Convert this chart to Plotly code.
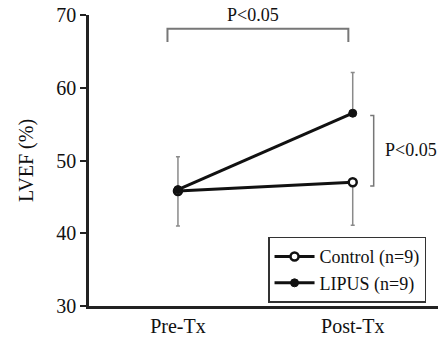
import plotly.graph_objects as go

categories = ["Pre-Tx", "Post-Tx"]
control = [45.8, 47.0]
control_err_minus = [4.8, 5.9]
lipus = [46.0, 56.5]
lipus_err_plus = [4.5, 5.6]
y_ticks = [30, 40, 50, 60, 70]

xpos = list(range(len(categories)))
FONT = "Liberation Serif, Times New Roman, DejaVu Serif, serif"

fig = go.Figure()
fig.add_trace(go.Scatter(
    x=xpos, y=control, mode="lines+markers", name="Control (n=9)",
    line=dict(color="#111", width=3),
    marker=dict(symbol="circle", size=8, color="white", line=dict(color="#111", width=2.5)),
    error_y=dict(type="data", symmetric=False, array=[0, 0], arrayminus=control_err_minus,
                 color="#8a8a8a", thickness=1.5, width=2),
))
fig.add_trace(go.Scatter(
    x=xpos, y=lipus, mode="lines+markers", name="LIPUS (n=9)",
    line=dict(color="#111", width=3),
    marker=dict(symbol="circle", size=8, color="#111", line=dict(color="#111", width=1)),
    error_y=dict(type="data", symmetric=False, array=lipus_err_plus, arrayminus=[0, 0],
                 color="#8a8a8a", thickness=1.5, width=2),
))

# significance brackets
br_top, br_leg = 68.1, 66.3
bx0, bx1 = -0.06, 0.975
gray = "#777"
fig.add_shape(type="path", xref="x", yref="y",
              path=f"M {bx0},{br_leg} L {bx0},{br_top} L {bx1},{br_top} L {bx1},{br_leg}",
              line=dict(color=gray, width=2))
fig.add_annotation(x=(bx0 + bx1) / 2 - 0.03, y=70.0, xref="x", yref="y", text="P<0.05",
                   showarrow=False, font=dict(family=FONT, size=18, color="#111"))
rx, rtick = 1.12, 1.10
fig.add_shape(type="path", xref="x", yref="y",
              path=f"M {rtick},{lipus[1] - 0.3} L {rx},{lipus[1] - 0.3} L {rx},{control[1] - 0.5} L {rtick},{control[1] - 0.5}",
              line=dict(color=gray, width=1.5))
fig.add_annotation(x=1.175, y=51.5, xref="x", yref="y", text="P<0.05", xanchor="left",
                   showarrow=False, font=dict(family=FONT, size=18, color="#111"))

fig.update_layout(
    width=438, height=350,
    margin=dict(l=89, r=0, t=15, b=44),
    paper_bgcolor="white", plot_bgcolor="white",
    font=dict(family=FONT, size=18, color="#111"),
    showlegend=True,
    legend=dict(x=0.513, y=0.238, xanchor="left", yanchor="top",
                bordercolor="#333", borderwidth=1.5, bgcolor="white",
                font=dict(family=FONT, size=18, color="#111"),
                tracegroupgap=0, itemwidth=40),
    xaxis=dict(range=[-0.509, 1.488], tickvals=xpos, ticktext=categories,
               showline=True, linecolor="#222", linewidth=2.5, ticks="",
               showgrid=False, zeroline=False, fixedrange=True,
               tickfont=dict(family=FONT, size=20)),
    yaxis=dict(range=[30, 70], tickvals=y_ticks,
               showline=True, linecolor="#222", linewidth=2.5,
               ticks="outside", ticklen=6, tickwidth=2, tickcolor="#222",
               showgrid=False, zeroline=False,
               title=dict(text="LVEF (%)", font=dict(family=FONT, size=20), standoff=18),
               tickfont=dict(family=FONT, size=20)),
)

fig.write_html("out.html")
